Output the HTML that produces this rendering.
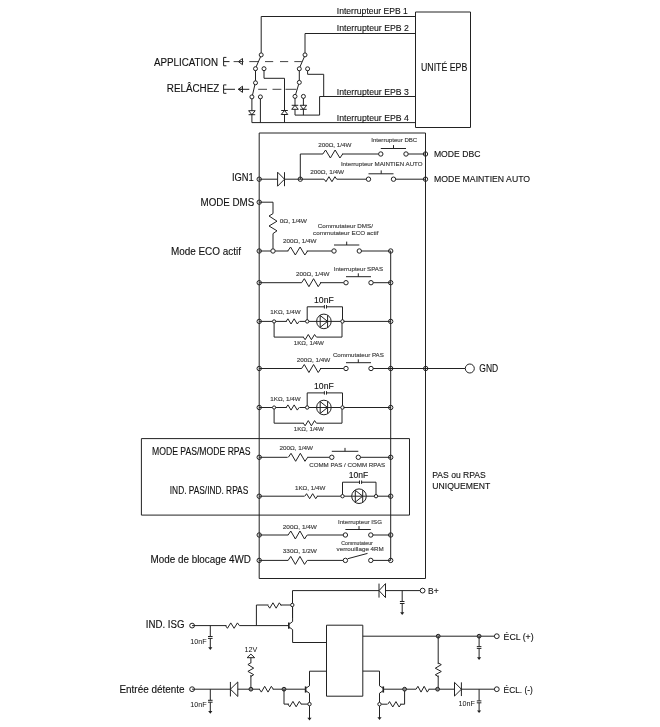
<!DOCTYPE html>
<html><head><meta charset="utf-8"><style>
html,body{margin:0;padding:0;background:#fff;}
svg{display:block;will-change:transform;}
text{font-family:"Liberation Sans",sans-serif;}
</style></head><body>
<svg width="660" height="727" viewBox="0 0 660 727">
<rect width="660" height="727" fill="#fff"/>
<g stroke="#222" stroke-width="1" fill="none" stroke-linejoin="miter">
<path d="M415.50,12.00 L470.50,12.00 L470.50,127.50 L415.50,127.50 Z" fill="none"/>
<text stroke="#111" stroke-width="0.12" x="421.00" y="70.90" font-size="10.5" textLength="46.30" lengthAdjust="spacingAndGlyphs" fill="#111">UNITÉ EPB</text>
<path d="M261.20,52.90 L261.20,16.50 L415.50,16.50" fill="none"/>
<path d="M305.00,52.90 L305.00,33.50 L415.50,33.50" fill="none"/>
<line x1="319.60" y1="96.50" x2="415.50" y2="96.50"/>
<line x1="251.90" y1="122.60" x2="415.50" y2="122.60"/>
<text stroke="#111" stroke-width="0.12" x="336.80" y="14.30" font-size="9.5" textLength="71.10" lengthAdjust="spacingAndGlyphs" fill="#111">Interrupteur EPB 1</text>
<text stroke="#111" stroke-width="0.12" x="336.80" y="31.10" font-size="9.5" textLength="72.00" lengthAdjust="spacingAndGlyphs" fill="#111">Interrupteur EPB 2</text>
<text stroke="#111" stroke-width="0.12" x="336.80" y="94.60" font-size="9.5" textLength="72.00" lengthAdjust="spacingAndGlyphs" fill="#111">Interrupteur EPB 3</text>
<text stroke="#111" stroke-width="0.12" x="336.80" y="121.30" font-size="9.5" textLength="72.00" lengthAdjust="spacingAndGlyphs" fill="#111">Interrupteur EPB 4</text>
<text stroke="#111" stroke-width="0.12" x="153.90" y="65.70" font-size="10" textLength="64.10" lengthAdjust="spacingAndGlyphs" fill="#111">APPLICATION</text>
<text stroke="#111" stroke-width="0.12" x="166.80" y="92.00" font-size="10" textLength="52.50" lengthAdjust="spacingAndGlyphs" fill="#111">RELÂCHEZ</text>
<path d="M226.40,57.40 L223.60,57.40 L223.60,65.80 L226.40,65.80" fill="none"/>
<path d="M226.40,84.90 L223.60,84.90 L223.60,93.30 L226.40,93.30" fill="none"/>
<path d="M242.50,58.50 L238.40,61.60 L242.50,64.70 Z" fill="none"/>
<line x1="238.40" y1="61.60" x2="242.50" y2="61.60"/>
<path d="M242.50,86.20 L238.40,89.30 L242.50,92.40 Z" fill="none"/>
<line x1="238.40" y1="89.30" x2="242.50" y2="89.30"/>
<line x1="223.60" y1="61.60" x2="229.50" y2="61.60"/>
<line x1="233.60" y1="61.60" x2="238.40" y2="61.60" stroke="#444"/>
<line x1="242.50" y1="61.60" x2="243.50" y2="61.60" stroke="#444"/>
<line x1="249.30" y1="61.60" x2="258.20" y2="61.60" stroke="#444"/>
<line x1="265.00" y1="61.60" x2="273.20" y2="61.60" stroke="#444"/>
<line x1="280.00" y1="61.60" x2="288.20" y2="61.60" stroke="#444"/>
<line x1="294.30" y1="61.60" x2="301.80" y2="61.60" stroke="#444"/>
<line x1="223.60" y1="89.30" x2="235.00" y2="89.30"/>
<line x1="238.40" y1="89.30" x2="249.30" y2="89.30"/>
<line x1="258.20" y1="89.30" x2="267.00" y2="89.30" stroke="#444"/>
<line x1="272.50" y1="89.30" x2="281.40" y2="89.30" stroke="#444"/>
<line x1="285.50" y1="89.30" x2="296.40" y2="89.30" stroke="#444"/>
<circle cx="261.20" cy="54.90" r="2.00" fill="#fff"/>
<circle cx="255.50" cy="68.70" r="2.00" fill="#fff"/>
<circle cx="264.00" cy="68.70" r="2.00" fill="#fff"/>
<line x1="260.60" y1="56.70" x2="256.10" y2="66.90"/>
<line x1="255.50" y1="70.50" x2="255.50" y2="81.00"/>
<circle cx="255.50" cy="82.80" r="2.00" fill="#fff"/>
<circle cx="251.90" cy="96.90" r="2.00" fill="#fff"/>
<circle cx="260.40" cy="96.90" r="2.00" fill="#fff"/>
<line x1="254.90" y1="84.60" x2="252.50" y2="95.10"/>
<circle cx="305.00" cy="54.90" r="2.00" fill="#fff"/>
<circle cx="299.30" cy="68.80" r="2.00" fill="#fff"/>
<circle cx="307.60" cy="68.80" r="2.00" fill="#fff"/>
<line x1="304.40" y1="56.70" x2="299.90" y2="67.00"/>
<line x1="299.30" y1="70.60" x2="299.30" y2="80.60"/>
<circle cx="299.30" cy="82.40" r="2.00" fill="#fff"/>
<circle cx="295.00" cy="96.40" r="2.00" fill="#fff"/>
<circle cx="303.40" cy="96.40" r="2.00" fill="#fff"/>
<line x1="298.70" y1="84.20" x2="295.60" y2="94.60"/>
<path d="M264.00,70.50 L264.00,78.30 L284.50,78.30 L284.50,122.60" fill="none"/>
<line x1="251.90" y1="98.70" x2="251.90" y2="122.60"/>
<line x1="260.40" y1="98.70" x2="260.40" y2="122.60"/>
<path d="M307.60,70.60 L307.60,74.30 L323.70,74.30 L323.70,96.50" fill="none"/>
<path d="M295.00,98.20 L295.00,115.10 L319.60,115.10 L319.60,96.50" fill="none"/>
<line x1="303.40" y1="98.20" x2="303.40" y2="115.10"/>
<path d="M248.60,110.70 L251.90,114.70 L255.20,110.70 Z" fill="#fff"/>
<line x1="248.60" y1="114.70" x2="255.20" y2="114.70"/>
<path d="M281.20,114.50 L284.50,110.50 L287.80,114.50 Z" fill="#fff"/>
<line x1="281.20" y1="110.50" x2="287.80" y2="110.50"/>
<path d="M291.70,109.30 L295.00,105.30 L298.30,109.30 Z" fill="#fff"/>
<line x1="291.70" y1="105.30" x2="298.30" y2="105.30"/>
<path d="M300.10,105.30 L303.40,109.30 L306.70,105.30 Z" fill="#fff"/>
<line x1="300.10" y1="109.30" x2="306.70" y2="109.30"/>
<path d="M259.20,133.00 L425.50,133.00 L425.50,578.50 L259.20,578.50 Z" fill="none"/>
<line x1="390.70" y1="251.00" x2="390.70" y2="560.40"/>
<path d="M300.30,179.20 L300.30,154.00 L322.90,154.00" fill="none"/>
<path d="M322.80,154.00 L325.59,150.00 L330.36,158.00 L335.14,150.00 L339.91,158.00 L342.70,154.00" fill="none"/>
<line x1="342.00" y1="154.00" x2="378.60" y2="154.00"/>
<circle cx="380.80" cy="154.00" r="2.20" fill="#fff"/>
<circle cx="406.00" cy="154.00" r="2.20" fill="#fff"/>
<line x1="380.80" y1="148.50" x2="406.00" y2="148.50"/>
<line x1="393.50" y1="148.50" x2="393.50" y2="145.10"/>
<line x1="408.20" y1="154.00" x2="425.50" y2="154.00"/>
<circle cx="425.50" cy="154.00" r="2.20" fill="none"/>
<text stroke="#777" stroke-width="0.18" x="318.20" y="146.70" font-size="6.2" textLength="33.30" lengthAdjust="spacingAndGlyphs" fill="#111">200Ω, 1/4W</text>
<text stroke="#777" stroke-width="0.18" x="371.20" y="142.40" font-size="6.2" textLength="46.10" lengthAdjust="spacingAndGlyphs" fill="#111">Interrupteur DBC</text>
<text stroke="#111" stroke-width="0.12" x="433.90" y="157.00" font-size="9.5" textLength="46.50" lengthAdjust="spacingAndGlyphs" fill="#111">MODE DBC</text>
<line x1="259.20" y1="179.20" x2="277.60" y2="179.20"/>
<circle cx="259.20" cy="179.20" r="2.20" fill="none"/>
<path d="M277.60,172.20 L284.50,179.20 L277.60,186.20 Z" fill="#fff"/>
<line x1="284.50" y1="172.20" x2="284.50" y2="186.20"/>
<line x1="284.50" y1="179.20" x2="324.00" y2="179.20"/>
<circle cx="300.30" cy="179.20" r="2.20" fill="none"/>
<path d="M324.20,179.20 L325.95,181.70 L328.95,176.70 L331.95,181.70 L334.95,176.70 L336.70,179.20" fill="none"/>
<line x1="336.70" y1="179.20" x2="366.30" y2="179.20"/>
<circle cx="368.50" cy="179.20" r="2.20" fill="#fff"/>
<circle cx="393.50" cy="179.20" r="2.20" fill="#fff"/>
<line x1="368.50" y1="173.80" x2="393.50" y2="173.80"/>
<line x1="381.20" y1="173.80" x2="381.20" y2="170.40"/>
<line x1="395.70" y1="179.20" x2="425.50" y2="179.20"/>
<circle cx="425.50" cy="179.20" r="2.20" fill="none"/>
<text stroke="#777" stroke-width="0.18" x="310.20" y="173.80" font-size="6.2" textLength="33.90" lengthAdjust="spacingAndGlyphs" fill="#111">200Ω, 1/4W</text>
<text stroke="#777" stroke-width="0.18" x="340.90" y="166.40" font-size="6.2" textLength="81.70" lengthAdjust="spacingAndGlyphs" fill="#111">Interrupteur MAINTIEN AUTO</text>
<text stroke="#111" stroke-width="0.12" x="232.00" y="181.10" font-size="10" textLength="21.80" lengthAdjust="spacingAndGlyphs" fill="#111">IGN1</text>
<text stroke="#111" stroke-width="0.12" x="434.10" y="181.70" font-size="9.5" textLength="96.00" lengthAdjust="spacingAndGlyphs" fill="#111">MODE MAINTIEN AUTO</text>
<circle cx="259.20" cy="202.20" r="2.20" fill="none"/>
<path d="M259.20,202.20 L273.00,202.20 L273.00,213.60" fill="none"/>
<path d="M273.00,213.60 L269.00,216.00 L277.00,221.20 L269.00,226.00 L277.00,230.80 L273.00,233.60" fill="none"/>
<line x1="273.00" y1="233.60" x2="273.00" y2="248.80"/>
<text stroke="#777" stroke-width="0.18" x="279.70" y="222.70" font-size="6.2" textLength="27.30" lengthAdjust="spacingAndGlyphs" fill="#111">0Ω, 1/4W</text>
<text stroke="#111" stroke-width="0.12" x="200.50" y="205.70" font-size="10" textLength="53.70" lengthAdjust="spacingAndGlyphs" fill="#111">MODE DMS</text>
<circle cx="259.20" cy="251.00" r="2.20" fill="none"/>
<circle cx="273.00" cy="251.00" r="2.20" fill="#fff"/>
<line x1="259.20" y1="251.00" x2="270.80" y2="251.00"/>
<line x1="275.20" y1="251.00" x2="288.30" y2="251.00"/>
<path d="M287.80,251.00 L290.57,247.00 L295.32,255.00 L300.08,247.00 L304.83,255.00 L307.60,251.00" fill="none"/>
<line x1="306.70" y1="251.00" x2="331.80" y2="251.00"/>
<circle cx="334.00" cy="251.00" r="2.20" fill="#fff"/>
<circle cx="359.30" cy="251.00" r="2.20" fill="#fff"/>
<line x1="334.00" y1="245.00" x2="359.30" y2="245.00"/>
<line x1="346.70" y1="245.00" x2="346.70" y2="241.60"/>
<line x1="361.50" y1="251.00" x2="390.70" y2="251.00"/>
<circle cx="390.70" cy="251.00" r="2.20" fill="none"/>
<text stroke="#777" stroke-width="0.18" x="282.90" y="242.90" font-size="6.2" textLength="33.60" lengthAdjust="spacingAndGlyphs" fill="#111">200Ω, 1/4W</text>
<text stroke="#777" stroke-width="0.18" x="317.70" y="228.00" font-size="6.2" textLength="55.30" lengthAdjust="spacingAndGlyphs" fill="#111">Commutateur DMS/</text>
<text stroke="#777" stroke-width="0.18" x="313.00" y="235.20" font-size="6.2" textLength="65.40" lengthAdjust="spacingAndGlyphs" fill="#111">commutateur ECO actif</text>
<text stroke="#111" stroke-width="0.12" x="170.90" y="255.00" font-size="10" textLength="70.10" lengthAdjust="spacingAndGlyphs" fill="#111">Mode ECO actif</text>
<circle cx="259.20" cy="282.70" r="2.20" fill="none"/>
<line x1="259.20" y1="282.70" x2="301.70" y2="282.70"/>
<path d="M301.60,282.70 L304.30,278.70 L308.93,286.70 L313.57,278.70 L318.20,286.70 L320.90,282.70" fill="none"/>
<line x1="320.00" y1="282.70" x2="343.80" y2="282.70"/>
<circle cx="346.00" cy="282.70" r="2.20" fill="#fff"/>
<circle cx="371.00" cy="282.70" r="2.20" fill="#fff"/>
<line x1="346.00" y1="276.70" x2="371.00" y2="276.70"/>
<line x1="358.30" y1="276.70" x2="358.30" y2="273.30"/>
<line x1="373.20" y1="282.70" x2="390.70" y2="282.70"/>
<circle cx="390.70" cy="282.70" r="2.20" fill="none"/>
<text stroke="#777" stroke-width="0.18" x="296.10" y="276.30" font-size="6.2" textLength="33.50" lengthAdjust="spacingAndGlyphs" fill="#111">200Ω, 1/4W</text>
<text stroke="#777" stroke-width="0.18" x="333.80" y="270.60" font-size="6.2" textLength="49.20" lengthAdjust="spacingAndGlyphs" fill="#111">Interrupteur SPAS</text>
<circle cx="259.20" cy="321.40" r="2.20" fill="none"/>
<line x1="259.20" y1="321.40" x2="272.50" y2="321.40"/>
<circle cx="274.10" cy="321.40" r="1.60" fill="#fff"/>
<line x1="275.70" y1="321.40" x2="286.80" y2="321.40"/>
<path d="M286.10,321.40 L287.92,318.80 L291.04,324.00 L294.16,318.80 L297.28,324.00 L299.10,321.40" fill="none"/>
<line x1="299.50" y1="321.40" x2="307.00" y2="321.40"/>
<circle cx="323.90" cy="321.40" r="7.30" fill="#fff"/>
<path d="M320.20,315.50 L327.60,321.40 L320.20,327.30 Z" fill="none"/>
<line x1="327.60" y1="315.40" x2="327.60" y2="327.40"/>
<line x1="307.20" y1="321.40" x2="342.50" y2="321.40"/>
<path d="M307.20,321.40 L307.20,306.80 L324.40,306.80" fill="none"/>
<path d="M326.50,306.80 L342.50,306.80 L342.50,321.40" fill="none"/>
<line x1="324.40" y1="305.10" x2="324.40" y2="308.50"/>
<line x1="326.50" y1="305.10" x2="326.50" y2="308.50"/>
<circle cx="307.20" cy="321.40" r="1.70" fill="#fff"/>
<circle cx="342.50" cy="321.40" r="1.70" fill="#fff"/>
<line x1="343.60" y1="321.40" x2="390.70" y2="321.40"/>
<circle cx="390.70" cy="321.40" r="2.20" fill="none"/>
<path d="M274.10,323.00 L274.10,337.10 L303.80,337.10" fill="none"/>
<path d="M303.30,337.10 L305.13,339.70 L308.28,334.50 L311.42,339.70 L314.57,334.50 L316.40,337.10" fill="none"/>
<path d="M316.50,337.10 L342.00,337.10 L342.00,323.00" fill="none"/>
<text stroke="#111" stroke-width="0.12" x="314.05" y="303.20" font-size="9" textLength="19.70" lengthAdjust="spacingAndGlyphs" fill="#111">10nF</text>
<text stroke="#777" stroke-width="0.18" x="270.30" y="314.40" font-size="6.2" textLength="30.30" lengthAdjust="spacingAndGlyphs" fill="#111">1KΩ, 1/4W</text>
<text stroke="#777" stroke-width="0.18" x="293.80" y="344.50" font-size="6.2" textLength="30.10" lengthAdjust="spacingAndGlyphs" fill="#111">1KΩ, 1/4W</text>
<circle cx="259.20" cy="368.50" r="2.20" fill="none"/>
<line x1="259.20" y1="368.50" x2="301.70" y2="368.50"/>
<path d="M301.60,368.50 L304.30,364.50 L308.93,372.50 L313.57,364.50 L318.20,372.50 L320.90,368.50" fill="none"/>
<line x1="320.00" y1="368.50" x2="343.80" y2="368.50"/>
<circle cx="346.00" cy="368.50" r="2.20" fill="#fff"/>
<circle cx="371.00" cy="368.50" r="2.20" fill="#fff"/>
<line x1="346.00" y1="362.70" x2="371.00" y2="362.70"/>
<line x1="358.30" y1="362.70" x2="358.30" y2="359.30"/>
<line x1="373.20" y1="368.50" x2="465.30" y2="368.50"/>
<circle cx="390.70" cy="368.50" r="2.20" fill="none"/>
<circle cx="425.70" cy="368.50" r="2.20" fill="none"/>
<circle cx="469.80" cy="368.50" r="4.50" fill="#fff"/>
<text stroke="#111" stroke-width="0.12" x="479.30" y="371.80" font-size="10" textLength="18.90" lengthAdjust="spacingAndGlyphs" fill="#111">GND</text>
<text stroke="#777" stroke-width="0.18" x="296.80" y="362.30" font-size="6.2" textLength="33.50" lengthAdjust="spacingAndGlyphs" fill="#111">200Ω, 1/4W</text>
<text stroke="#777" stroke-width="0.18" x="332.90" y="357.00" font-size="6.2" textLength="50.90" lengthAdjust="spacingAndGlyphs" fill="#111">Commutateur PAS</text>
<circle cx="259.20" cy="407.50" r="2.20" fill="none"/>
<line x1="259.20" y1="407.50" x2="272.50" y2="407.50"/>
<circle cx="274.10" cy="407.50" r="1.60" fill="#fff"/>
<line x1="275.70" y1="407.50" x2="286.80" y2="407.50"/>
<path d="M286.10,407.50 L287.92,404.90 L291.04,410.10 L294.16,404.90 L297.28,410.10 L299.10,407.50" fill="none"/>
<line x1="299.50" y1="407.50" x2="307.00" y2="407.50"/>
<circle cx="323.90" cy="407.50" r="7.30" fill="#fff"/>
<path d="M320.20,401.60 L327.60,407.50 L320.20,413.40 Z" fill="none"/>
<line x1="327.60" y1="401.50" x2="327.60" y2="413.50"/>
<line x1="307.20" y1="407.50" x2="342.50" y2="407.50"/>
<path d="M307.20,407.50 L307.20,392.90 L324.40,392.90" fill="none"/>
<path d="M326.50,392.90 L342.50,392.90 L342.50,407.50" fill="none"/>
<line x1="324.40" y1="391.20" x2="324.40" y2="394.60"/>
<line x1="326.50" y1="391.20" x2="326.50" y2="394.60"/>
<circle cx="307.20" cy="407.50" r="1.70" fill="#fff"/>
<circle cx="342.50" cy="407.50" r="1.70" fill="#fff"/>
<line x1="343.60" y1="407.50" x2="390.70" y2="407.50"/>
<circle cx="390.70" cy="407.50" r="2.20" fill="none"/>
<path d="M274.10,409.10 L274.10,423.20 L303.80,423.20" fill="none"/>
<path d="M303.30,423.20 L305.13,425.80 L308.28,420.60 L311.42,425.80 L314.57,420.60 L316.40,423.20" fill="none"/>
<path d="M316.50,423.20 L342.00,423.20 L342.00,409.10" fill="none"/>
<text stroke="#111" stroke-width="0.12" x="314.05" y="389.30" font-size="9" textLength="19.70" lengthAdjust="spacingAndGlyphs" fill="#111">10nF</text>
<text stroke="#777" stroke-width="0.18" x="270.30" y="400.50" font-size="6.2" textLength="30.30" lengthAdjust="spacingAndGlyphs" fill="#111">1KΩ, 1/4W</text>
<text stroke="#777" stroke-width="0.18" x="293.80" y="430.60" font-size="6.2" textLength="30.10" lengthAdjust="spacingAndGlyphs" fill="#111">1KΩ, 1/4W</text>
<path d="M141.40,438.60 L409.50,438.60 L409.50,515.10 L141.40,515.10 Z" fill="none"/>
<text stroke="#111" stroke-width="0.12" x="432.30" y="478.20" font-size="9.5" textLength="53.40" lengthAdjust="spacingAndGlyphs" fill="#111">PAS ou RPAS</text>
<text stroke="#111" stroke-width="0.12" x="432.30" y="488.90" font-size="9.5" textLength="57.90" lengthAdjust="spacingAndGlyphs" fill="#111">UNIQUEMENT</text>
<circle cx="259.20" cy="457.30" r="2.20" fill="none"/>
<line x1="259.20" y1="457.30" x2="287.60" y2="457.30"/>
<path d="M288.30,457.30 L291.02,453.30 L295.67,461.30 L300.33,453.30 L304.98,461.30 L307.70,457.30" fill="none"/>
<line x1="307.30" y1="457.30" x2="329.60" y2="457.30"/>
<circle cx="331.80" cy="457.30" r="2.20" fill="#fff"/>
<circle cx="358.30" cy="457.30" r="2.20" fill="#fff"/>
<line x1="331.80" y1="451.30" x2="358.30" y2="451.30"/>
<line x1="345.00" y1="451.30" x2="345.00" y2="447.90"/>
<line x1="360.50" y1="457.30" x2="390.70" y2="457.30"/>
<circle cx="390.70" cy="457.30" r="2.20" fill="none"/>
<text stroke="#777" stroke-width="0.18" x="279.50" y="449.50" font-size="6.2" textLength="33.50" lengthAdjust="spacingAndGlyphs" fill="#111">200Ω, 1/4W</text>
<text stroke="#777" stroke-width="0.18" x="309.20" y="466.50" font-size="6.2" textLength="76.00" lengthAdjust="spacingAndGlyphs" fill="#111">COMM PAS / COMM RPAS</text>
<text stroke="#111" stroke-width="0.12" x="152.00" y="455.20" font-size="10" textLength="98.50" lengthAdjust="spacingAndGlyphs" fill="#111">MODE PAS/MODE RPAS</text>
<circle cx="259.20" cy="496.20" r="2.20" fill="none"/>
<line x1="259.20" y1="496.20" x2="304.50" y2="496.20"/>
<path d="M304.80,496.20 L306.58,493.70 L309.63,498.70 L312.67,493.70 L315.72,498.70 L317.50,496.20" fill="none"/>
<line x1="316.80" y1="496.20" x2="342.70" y2="496.20"/>
<circle cx="359.00" cy="496.20" r="7.30" fill="#fff"/>
<path d="M355.30,490.30 L362.70,496.20 L355.30,502.10 Z" fill="none"/>
<line x1="362.70" y1="490.20" x2="362.70" y2="502.20"/>
<line x1="342.50" y1="496.20" x2="376.00" y2="496.20"/>
<path d="M342.50,496.20 L342.50,482.20 L359.50,482.20" fill="none"/>
<path d="M361.60,482.20 L376.00,482.20 L376.00,496.20" fill="none"/>
<line x1="359.50" y1="480.50" x2="359.50" y2="483.90"/>
<line x1="361.60" y1="480.50" x2="361.60" y2="483.90"/>
<circle cx="342.50" cy="496.20" r="1.70" fill="#fff"/>
<circle cx="376.00" cy="496.20" r="1.70" fill="#fff"/>
<line x1="377.60" y1="496.20" x2="390.70" y2="496.20"/>
<circle cx="390.70" cy="496.20" r="2.20" fill="none"/>
<text stroke="#111" stroke-width="0.12" x="348.70" y="478.20" font-size="9" textLength="19.50" lengthAdjust="spacingAndGlyphs" fill="#111">10nF</text>
<text stroke="#777" stroke-width="0.18" x="295.00" y="490.30" font-size="6.2" textLength="30.30" lengthAdjust="spacingAndGlyphs" fill="#111">1KΩ, 1/4W</text>
<text stroke="#111" stroke-width="0.12" x="169.80" y="494.30" font-size="10" textLength="78.40" lengthAdjust="spacingAndGlyphs" fill="#111">IND. PAS/IND. RPAS</text>
<circle cx="259.20" cy="535.00" r="2.20" fill="none"/>
<line x1="259.20" y1="535.00" x2="288.20" y2="535.00"/>
<path d="M288.10,535.00 L290.77,531.00 L295.36,539.00 L299.94,531.00 L304.53,539.00 L307.20,535.00" fill="none"/>
<line x1="307.30" y1="535.00" x2="343.20" y2="535.00"/>
<circle cx="345.40" cy="535.00" r="2.20" fill="#fff"/>
<circle cx="370.80" cy="535.00" r="2.20" fill="#fff"/>
<line x1="345.40" y1="529.50" x2="370.80" y2="529.50"/>
<line x1="359.00" y1="529.50" x2="359.00" y2="526.10"/>
<line x1="373.00" y1="535.00" x2="390.70" y2="535.00"/>
<circle cx="390.70" cy="535.00" r="2.20" fill="none"/>
<text stroke="#777" stroke-width="0.18" x="282.80" y="528.80" font-size="6.2" textLength="34.10" lengthAdjust="spacingAndGlyphs" fill="#111">200Ω, 1/4W</text>
<text stroke="#777" stroke-width="0.18" x="338.00" y="524.30" font-size="6.2" textLength="43.90" lengthAdjust="spacingAndGlyphs" fill="#111">Interrupteur ISG</text>
<circle cx="259.20" cy="560.40" r="2.20" fill="none"/>
<line x1="259.20" y1="560.40" x2="288.20" y2="560.40"/>
<path d="M288.10,560.40 L290.77,556.40 L295.36,564.40 L299.94,556.40 L304.53,564.40 L307.20,560.40" fill="none"/>
<line x1="307.30" y1="560.40" x2="343.20" y2="560.40"/>
<circle cx="345.40" cy="560.40" r="2.20" fill="#fff"/>
<circle cx="370.80" cy="560.40" r="2.20" fill="#fff"/>
<line x1="347.80" y1="558.70" x2="367.50" y2="553.40"/>
<line x1="373.00" y1="560.40" x2="390.70" y2="560.40"/>
<circle cx="390.70" cy="560.40" r="2.20" fill="none"/>
<text stroke="#777" stroke-width="0.18" x="282.80" y="553.40" font-size="6.2" textLength="34.10" lengthAdjust="spacingAndGlyphs" fill="#111">330Ω, 1/2W</text>
<text stroke="#777" stroke-width="0.18" x="341.30" y="544.50" font-size="6.2" textLength="31.50" lengthAdjust="spacingAndGlyphs" fill="#111">Commutateur</text>
<text stroke="#777" stroke-width="0.18" x="336.60" y="550.50" font-size="6.2" textLength="47.20" lengthAdjust="spacingAndGlyphs" fill="#111">verrouillage 4RM</text>
<text stroke="#111" stroke-width="0.12" x="150.60" y="562.90" font-size="10" textLength="100.30" lengthAdjust="spacingAndGlyphs" fill="#111">Mode de blocage 4WD</text>
<path d="M292.50,618.00 L292.50,590.60 L379.00,590.60" fill="none"/>
<path d="M385.50,583.60 L379.00,590.60 L385.50,597.60 Z" fill="#fff"/>
<line x1="379.00" y1="583.60" x2="379.00" y2="597.60"/>
<line x1="385.50" y1="590.60" x2="422.60" y2="590.60"/>
<circle cx="422.60" cy="590.60" r="2.40" fill="#fff"/>
<line x1="402.20" y1="590.60" x2="402.20" y2="601.50"/>
<line x1="399.90" y1="601.50" x2="404.50" y2="601.50"/>
<line x1="399.90" y1="603.50" x2="404.50" y2="603.50"/>
<line x1="402.20" y1="603.50" x2="402.20" y2="613.70"/>
<path d="M400.10,612.30 L404.30,612.30 L402.20,615.00 Z" fill="#222" stroke="none"/>
<text stroke="#111" stroke-width="0.12" x="428.10" y="593.50" font-size="9" textLength="10.60" lengthAdjust="spacingAndGlyphs" fill="#111">B+</text>
<circle cx="192.10" cy="625.60" r="2.40" fill="#fff"/>
<line x1="192.10" y1="625.60" x2="226.50" y2="625.60"/>
<path d="M225.50,625.60 L227.45,628.30 L230.78,622.90 L234.12,628.30 L237.45,622.90 L239.40,625.60" fill="none"/>
<line x1="239.40" y1="625.60" x2="288.40" y2="625.60"/>
<line x1="210.30" y1="625.60" x2="210.30" y2="636.50"/>
<line x1="208.00" y1="636.50" x2="212.60" y2="636.50"/>
<line x1="208.00" y1="638.40" x2="212.60" y2="638.40"/>
<line x1="210.30" y1="638.40" x2="210.30" y2="648.60"/>
<path d="M208.20,647.20 L212.40,647.20 L210.30,649.90 Z" fill="#222" stroke="none"/>
<text stroke="none" x="190.20" y="643.50" font-size="7.5" textLength="16.50" lengthAdjust="spacingAndGlyphs" fill="#111">10nF</text>
<text stroke="#111" stroke-width="0.12" x="145.80" y="628.20" font-size="10" textLength="38.70" lengthAdjust="spacingAndGlyphs" fill="#111">IND. ISG</text>
<path d="M256.40,625.60 L256.40,605.00 L268.50,605.00" fill="none"/>
<path d="M267.90,605.50 L269.76,608.20 L272.95,602.80 L276.15,608.20 L279.34,602.80 L281.20,605.50" fill="none"/>
<line x1="280.60" y1="605.00" x2="290.60" y2="605.00"/>
<circle cx="292.30" cy="605.00" r="1.70" fill="#fff"/>
<line x1="288.80" y1="622.40" x2="288.80" y2="628.80" stroke-width="1.6"/>
<path d="M288.80,624.40 L292.60,621.60 L292.60,607.30" fill="none"/>
<path d="M288.80,626.80 L292.60,629.60 L292.60,642.50 L326.50,642.50" fill="none"/>
<path d="M326.50,625.20 L362.80,625.20 L362.80,696.20 L326.50,696.20 Z" fill="none"/>
<line x1="362.80" y1="636.20" x2="496.80" y2="636.20"/>
<circle cx="438.20" cy="636.20" r="1.90" fill="#888"/>
<circle cx="479.10" cy="636.20" r="1.90" fill="#888"/>
<circle cx="496.80" cy="636.20" r="2.40" fill="#fff"/>
<line x1="479.10" y1="636.20" x2="479.10" y2="646.60"/>
<line x1="476.80" y1="646.60" x2="481.40" y2="646.60"/>
<line x1="476.80" y1="648.40" x2="481.40" y2="648.40"/>
<line x1="479.10" y1="648.40" x2="479.10" y2="658.60"/>
<path d="M477.00,657.20 L481.20,657.20 L479.10,659.90 Z" fill="#222" stroke="none"/>
<text stroke="#111" stroke-width="0.12" x="503.60" y="640.40" font-size="9" textLength="30.00" lengthAdjust="spacingAndGlyphs" fill="#111">ÉCL (+)</text>
<line x1="438.20" y1="636.20" x2="438.20" y2="664.10"/>
<path d="M438.30,663.00 L441.30,664.64 L435.30,668.21 L441.30,671.49 L435.30,674.78 L438.30,676.70" fill="none"/>
<line x1="438.20" y1="675.50" x2="438.20" y2="689.20"/>
<circle cx="192.10" cy="689.20" r="2.40" fill="#fff"/>
<line x1="192.10" y1="689.20" x2="230.40" y2="689.20"/>
<path d="M237.80,681.95 L230.40,689.20 L237.80,696.45 Z" fill="#fff"/>
<line x1="230.40" y1="681.95" x2="230.40" y2="696.45"/>
<line x1="237.80" y1="689.20" x2="260.00" y2="689.20"/>
<circle cx="250.90" cy="689.20" r="1.90" fill="#888"/>
<path d="M259.40,689.20 L261.35,692.10 L264.68,686.30 L268.02,692.10 L271.35,686.30 L273.30,689.20" fill="none"/>
<line x1="272.70" y1="689.20" x2="305.50" y2="689.20"/>
<circle cx="284.00" cy="689.20" r="1.90" fill="#888"/>
<line x1="210.30" y1="689.20" x2="210.30" y2="700.30"/>
<line x1="208.00" y1="700.30" x2="212.60" y2="700.30"/>
<line x1="208.00" y1="702.20" x2="212.60" y2="702.20"/>
<line x1="210.30" y1="702.20" x2="210.30" y2="712.40"/>
<path d="M208.20,711.00 L212.40,711.00 L210.30,713.70 Z" fill="#222" stroke="none"/>
<text stroke="none" x="190.20" y="706.50" font-size="7.5" textLength="16.50" lengthAdjust="spacingAndGlyphs" fill="#111">10nF</text>
<text stroke="#111" stroke-width="0.12" x="119.50" y="692.60" font-size="10" textLength="65.00" lengthAdjust="spacingAndGlyphs" fill="#111">Entrée détente</text>
<line x1="250.90" y1="687.60" x2="250.90" y2="675.00"/>
<path d="M250.80,662.90 L247.90,664.54 L253.70,668.11 L247.90,671.39 L253.70,674.68 L250.80,676.60" fill="none"/>
<line x1="250.90" y1="657.70" x2="250.90" y2="663.20"/>
<path d="M247.10,657.70 L250.90,654.10 L254.70,657.70 Z" fill="none"/>
<text stroke="none" x="244.50" y="652.30" font-size="7.5" textLength="12.80" lengthAdjust="spacingAndGlyphs" fill="#111">12V</text>
<path d="M284.00,689.20 L284.00,704.10 L289.00,704.10" fill="none"/>
<path d="M287.90,704.10 L289.76,706.80 L292.95,701.40 L296.15,706.80 L299.34,701.40 L301.20,704.10" fill="none"/>
<line x1="300.90" y1="704.10" x2="307.80" y2="704.10"/>
<circle cx="309.50" cy="704.10" r="1.70" fill="#fff"/>
<line x1="305.60" y1="686.40" x2="305.60" y2="692.60" stroke-width="1.6"/>
<path d="M305.60,688.40 L309.50,685.80 L309.50,671.20 L326.50,671.20" fill="none"/>
<path d="M305.60,690.60 L309.50,693.30 L309.50,702.40" fill="none"/>
<line x1="309.50" y1="705.80" x2="309.50" y2="719.20"/>
<path d="M307.40,717.80 L311.60,717.80 L309.50,720.50 Z" fill="#222" stroke="none"/>
<line x1="383.30" y1="686.40" x2="383.30" y2="692.60" stroke-width="1.6"/>
<path d="M383.30,688.40 L379.50,685.80 L379.50,671.10 L362.80,671.10" fill="none"/>
<path d="M383.30,690.60 L379.50,693.20 L379.50,702.50" fill="none"/>
<line x1="379.50" y1="705.90" x2="379.50" y2="718.60"/>
<path d="M377.40,717.20 L381.60,717.20 L379.50,719.90 Z" fill="#222" stroke="none"/>
<line x1="383.30" y1="689.20" x2="416.10" y2="689.20"/>
<circle cx="404.60" cy="689.20" r="1.90" fill="#888"/>
<path d="M416.10,689.20 L417.92,686.30 L421.04,692.10 L424.16,686.30 L427.28,692.10 L429.10,689.20" fill="none"/>
<line x1="428.60" y1="689.20" x2="454.50" y2="689.20"/>
<circle cx="437.60" cy="689.20" r="1.90" fill="#888"/>
<path d="M454.50,682.35 L461.40,689.20 L454.50,696.05 Z" fill="#fff"/>
<line x1="461.40" y1="682.35" x2="461.40" y2="696.05"/>
<line x1="461.40" y1="689.20" x2="496.80" y2="689.20"/>
<circle cx="496.80" cy="689.20" r="2.40" fill="#fff"/>
<path d="M381.20,704.20 L387.20,704.20" fill="none"/>
<path d="M387.70,704.30 L389.56,701.60 L392.75,707.00 L395.95,701.60 L399.14,707.00 L401.00,704.30" fill="none"/>
<path d="M400.00,704.20 L404.60,704.20 L404.60,690.80" fill="none"/>
<circle cx="379.50" cy="704.20" r="1.70" fill="#fff"/>
<line x1="479.10" y1="689.20" x2="479.10" y2="700.90"/>
<line x1="476.80" y1="700.90" x2="481.40" y2="700.90"/>
<line x1="476.80" y1="702.80" x2="481.40" y2="702.80"/>
<line x1="479.10" y1="702.80" x2="479.10" y2="711.80"/>
<path d="M477.00,710.40 L481.20,710.40 L479.10,713.10 Z" fill="#222" stroke="none"/>
<text stroke="none" x="458.60" y="706.40" font-size="7.5" textLength="16.40" lengthAdjust="spacingAndGlyphs" fill="#111">10nF</text>
<text stroke="#111" stroke-width="0.12" x="503.60" y="692.70" font-size="9" textLength="29.20" lengthAdjust="spacingAndGlyphs" fill="#111">ÉCL. (-)</text>
</g>
</svg>
</body></html>
